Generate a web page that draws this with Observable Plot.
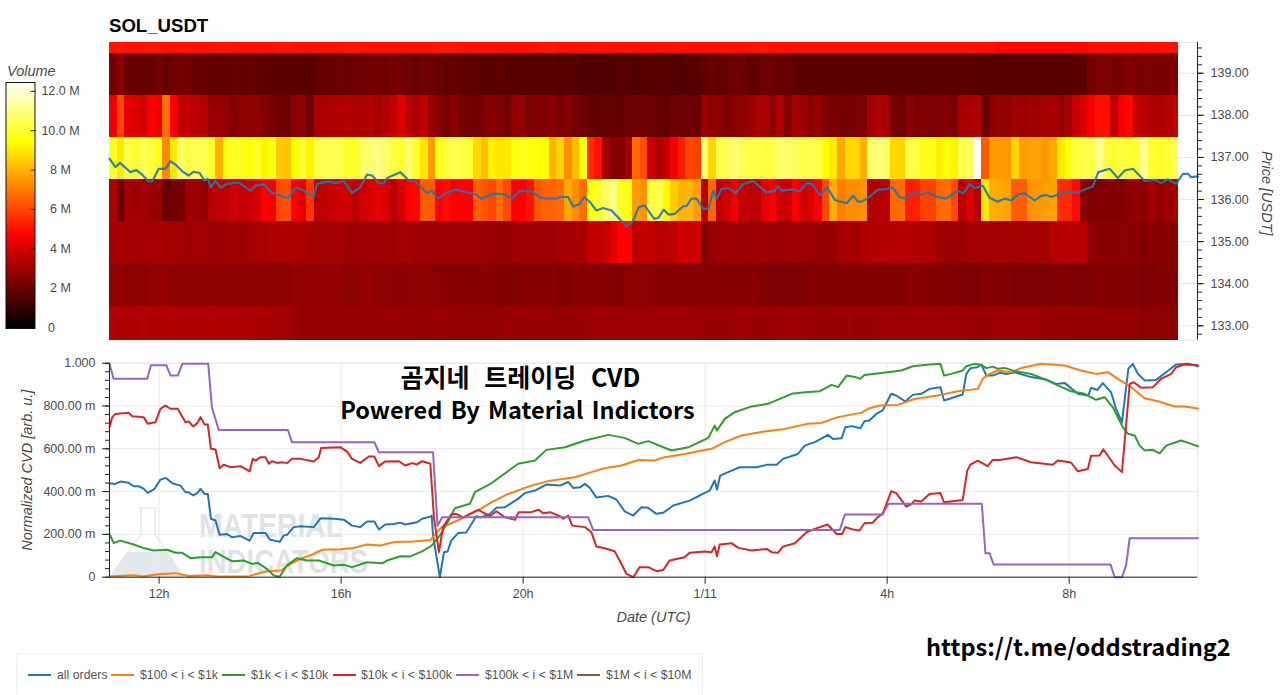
<!DOCTYPE html>
<html><head><meta charset="utf-8">
<script src="https://cdn.jsdelivr.net/npm/d3@7"></script>
<script src="https://cdn.jsdelivr.net/npm/@observablehq/plot@0.6"></script>
<style>
html,body{margin:0;padding:0;background:#fff}
#root{position:relative;width:1280px;height:695px;overflow:hidden;font-family:"Liberation Sans",Arial,sans-serif}
.abs{position:absolute;white-space:nowrap}
.ko{font-family:"Noto Sans CJK KR","Noto Sans",sans-serif;font-weight:700;color:#000}
.lg{position:absolute;top:668px;font-size:12.3px;color:#555;white-space:nowrap}
.sw{position:absolute;top:674px;height:2.4px;width:23px}
</style></head><body><div id="root"></div>
<script>
// ---------- heatmap: volume (millions) per 10-minute bin, per 1-USDT price band ----------
const binStart = 10.91, binHours = 1/6;
const bandEdges = [132.663,133.47,134.47,135.47,136.47,137.47,138.47,139.47,139.73];
const band133 = [
3.3,3.2,3.2,3.2,3.3,3.2,3.2,3.2,3.3,3.2, 3.2,3.2,3.2,3.3,3.2,3.2,3.2,3.2,3.2,3.1,
3.1,3.0,3.0,3.0,2.8,2.8,2.8,2.8,2.8,2.8, 2.8,2.8,2.8,2.8,2.8,2.8,2.8,2.8,2.8,2.8,
2.7,2.7,2.7,2.8,2.8,2.7,2.7,2.7,2.7,2.7, 2.7,2.7,2.8,2.8,2.8,2.8,2.8,2.8,2.7,2.7,
2.8,2.8,2.8,2.9,2.9,2.9,2.9,2.9,2.9,2.9, 2.9,2.9,2.9,2.9,2.9,2.9,2.9,2.9,2.8,2.8,
2.8,2.8,2.9,2.9,2.9,2.8,2.8,2.8,2.9,2.9, 2.9,2.9,2.8,2.8,2.8,2.8,2.8,2.9,2.8,2.8,
2.8,2.9,2.9,2.9,2.9,2.9,2.9,2.9,2.9,2.9, 2.9,2.9,2.9,2.8,2.8,2.8,2.9,2.9,2.9,2.9,
2.9,2.9,2.9,2.8,2.8,2.8,2.8,2.7,2.7,2.7, 2.7,2.7,2.7,2.7,2.7,2.7,2.6,2.6,2.6,2.6,2.6];
const band134 = [
2.7,2.7,2.6,2.6,2.6,2.7,2.7,2.7,2.6,2.6, 2.6,2.6,2.6,2.6,2.6,2.6,2.6,2.6,2.6,2.6,
2.6,2.6,2.6,2.6,2.7,2.7,2.7,2.7,2.7,2.7, 2.7,2.6,2.6,2.7,2.7,2.6,2.6,2.5,2.5,2.6,
2.6,2.6,2.6,2.5,2.5,2.5,2.5,2.5,2.5,2.5, 2.5,2.4,2.4,2.4,2.5,2.5,2.5,2.5,2.5,2.4,
2.4,2.5,2.5,2.5,2.5,2.5,2.4,2.4,2.6,2.6, 2.6,2.5,2.5,2.5,2.5,2.5,2.5,2.5,2.5,2.5,
2.5,2.5,2.5,2.5,2.5,2.5,2.4,2.3,2.3,2.3, 2.3,2.3,2.4,2.4,2.4,2.4,2.4,2.4,2.4,2.4,
2.4,2.4,2.4,2.4,2.4,2.5,2.5,2.5,2.4,2.4, 2.4,2.4,2.3,2.3,2.3,2.4,2.4,2.4,2.4,2.3,
2.3,2.3,2.3,2.3,2.3,2.4,2.4,2.3,2.3,2.3, 2.4,2.4,2.4,2.4,2.4,2.4,2.3,2.3,2.4,2.4,2.4];
const band135 = [
3.0,3.1,3.1,3.0,3.0,3.0,3.1,3.1,3.0,3.0, 2.9,3.0,3.0,2.8,2.9,2.9,3.0,2.9,3.0,3.1,
3.1,3.2,3.2,3.2,3.2,3.1,3.1,3.0,3.0,3.0, 3.0,2.9,2.9,2.9,2.9,2.9,3.0,2.9,3.0,3.0,
2.9,2.9,2.9,2.9,2.9,2.9,2.9,2.9,2.9,2.9, 2.8,2.8,2.8,2.9,2.9,2.9,2.9,2.9,2.9,3.0,
3.0,3.1,3.1,3.6,3.5,3.7,4.2,4.7,4.7,3.4, 3.6,3.6,3.4,3.4,3.5,3.9,3.7,3.8,2.4,2.8,
2.8,2.9,2.9,2.9,2.8,2.9,2.9,2.9,2.8,2.9, 2.9,2.9,2.9,2.8,2.7,2.8,3.0,3.1,3.0,3.2,
3.3,3.3,3.3,3.4,3.3,3.3,3.3,3.2,3.2,2.9, 2.9,2.8,2.9,3.0,3.0,3.0,3.0,3.0,3.0,3.0,
3.0,3.1,3.1,3.0,3.3,3.3,3.4,3.4,3.4,2.6, 2.5,2.5,2.5,2.6,2.5,2.6,2.4,2.5,2.5,2.5,2.5];
const band136 = [
3.2,1.9,3.0,2.9,3.0,2.9,2.8,1.9,2.1,2.2, 2.9,2.8,2.7,3.4,3.5,3.5,3.8,3.6,3.7,4.0,
4.7,4.5,6.0,6.2,4.6,4.2,5.7,3.4,3.6,3.7, 3.8,3.8,3.4,3.8,4.0,4.2,4.0,3.4,3.9,4.6,
4.8,6.4,6.4,4.7,4.9,4.6,4.7,4.7,6.5,6.3, 6.0,6.7,6.0,4.7,4.6,5.0,6.3,6.5,6.5,6.7,
7.8,7.3,6.7,9.6,9.9,10.6,11.0,9.8,9.6,7.6, 7.4,10.2,10.3,9.3,8.5,8.0,8.1,7.6,3.4,6.6,
3.5,3.8,4.5,3.6,3.5,3.5,4.2,4.6,3.8,3.7, 4.6,3.8,4.0,4.6,6.0,7.9,7.0,7.3,7.3,7.4,
3.3,3.3,3.4,6.6,6.7,5.2,5.3,5.9,5.9,6.6, 6.7,6.0,3.4,4.0,3.3,9.0,7.9,7.8,7.7,6.4,
6.4,7.4,7.5,7.6,7.7,5.5,5.4,4.9,2.6,2.3, 2.4,2.4,2.4,2.4,2.6,2.7,2.6,3.0,2.7,2.9,3.0];
const band137 = [
9.8,9.0,10.3,10.0,10.4,10.2,9.6,7.2,9.0,10.6, 10.2,10.5,10.4,10.0,8.0,9.6,9.9,9.7,9.5,9.8,
9.2,9.6,8.4,8.3,9.4,10.1,9.2,10.3,10.4,10.4, 10.3,9.9,9.9,10.6,10.8,11.0,10.7,10.2,10.0,10.9,
10.0,8.9,7.6,9.7,10.1,10.4,10.3,10.0,8.7,8.2, 9.1,8.9,9.0,9.6,9.8,9.6,9.5,9.4,8.0,8.6,
7.3,8.2,9.4,5.5,5.0,3.0,2.4,2.5,3.0,6.6, 6.1,3.7,3.2,3.6,4.5,5.2,6.0,5.9,10.8,8.6,
10.3,10.5,10.9,10.5,10.3,10.3,10.2,10.3,10.7,10.7, 10.5,10.3,10.4,10.3,9.4,9.0,7.8,8.7,8.7,7.9,
10.6,10.9,10.6,8.7,8.6,10.3,10.2,9.7,9.7,9.1, 9.4,9.2,10.4,10.5,12.4,6.4,7.6,7.6,7.5,8.6,
7.6,7.7,7.7,7.5,7.8,9.0,9.5,10.2,10.3,10.3, 11.2,10.2,10.0,10.2,10.0,10.1,11.2,10.0,9.9,10.0,10.5];
const band138 = [
4.4,6.0,4.2,4.1,3.9,4.6,4.4,6.8,4.7,3.6, 3.6,3.5,3.3,2.8,2.8,2.7,2.4,2.6,2.6,2.6,
2.4,2.3,2.1,2.0,2.5,2.6,2.0,3.1,3.1,3.2, 3.2,3.3,3.2,3.2,3.3,3.1,3.3,3.5,4.1,3.4,
3.2,3.5,2.8,2.5,2.2,2.6,2.2,2.2,2.1,2.3, 2.5,2.3,2.2,2.7,2.7,2.3,2.4,2.4,2.5,2.3,
2.4,2.2,2.1,1.8,1.8,1.9,1.9,1.8,2.0,2.0, 2.1,2.0,1.9,1.8,2.0,2.0,2.0,2.0,2.9,2.6,
2.6,2.4,2.5,2.6,2.8,3.1,3.1,2.6,3.2,2.4, 3.0,2.9,2.5,2.8,2.3,2.3,2.2,2.2,2.3,2.3,
3.0,3.2,3.1,2.2,2.1,2.5,2.3,2.4,2.3,2.3, 2.4,2.2,3.1,3.1,3.2,2.0,2.6,2.7,2.7,2.9,
2.9,3.0,2.9,3.0,3.1,2.8,3.0,3.6,4.0,4.6, 5.0,5.0,3.6,4.5,4.8,3.6,3.4,3.2,3.2,3.3,3.6];
const band139 = [
2.2,2.5,1.9,1.9,1.9,1.9,2.1,1.9,2.1,2.2, 2.1,1.9,1.9,1.8,1.8,1.8,1.9,1.8,1.9,1.8,
1.8,1.7,1.7,1.7,1.7,1.7,1.6,1.8,1.9,1.9, 2.0,1.9,2.1,2.0,2.1,2.1,2.0,2.2,2.1,2.1,
1.9,2.1,2.0,1.9,1.8,1.9,1.8,1.7,1.7,1.6, 1.6,1.7,1.6,1.6,1.6,1.6,1.6,1.6,1.6,1.5,
1.6,1.6,1.5,1.5,1.5,1.5,1.5,1.6,1.6,1.5, 1.6,1.6,1.6,1.6,1.5,1.5,1.6,1.6,1.8,1.9,
1.8,1.9,2.0,2.0,1.8,1.8,2.0,2.0,1.9,1.9, 1.7,1.7,1.7,1.7,1.7,1.7,1.7,1.7,1.7,1.7,
1.7,1.7,1.7,1.7,1.7,1.7,1.7,1.7,1.7,1.7, 1.7,1.7,1.7,1.7,1.6,1.6,1.6,1.6,1.6,1.6,
1.6,1.6,1.6,1.6,1.6,1.6,1.6,1.7,1.7,2.2, 2.3,2.3,2.2,2.2,2.4,2.2,2.3,2.3,2.2,2.3,2.3];
const band140 = [
5.1,5.1,5.0,5.0,5.0,5.1,5.1,5.0,5.0,5.0, 5.0,5.0,5.0,5.0,5.1,5.1,5.0,5.0,5.0,5.0,
5.0,5.0,5.1,5.1,5.0,5.0,5.0,5.0,5.0,5.0, 5.0,5.1,5.1,5.0,5.0,5.0,5.0,5.0,5.0,5.0,
5.0,5.0,5.0,5.1,5.1,5.1,5.0,5.0,5.0,5.0, 5.0,5.0,5.0,5.0,5.0,5.0,5.0,5.1,5.1,5.0,
5.0,5.0,5.0,5.0,5.0,5.0,5.0,5.0,5.0,5.0, 5.0,5.0,5.0,5.0,5.0,5.0,5.0,5.0,5.0,5.0,
5.0,5.0,5.0,5.0,5.0,5.1,5.1,5.0,5.0,5.0, 5.0,5.0,5.0,5.0,5.0,5.0,5.0,5.0,5.0,5.0,
5.0,5.0,5.0,5.0,5.0,5.0,5.0,5.0,5.0,5.0, 5.0,5.0,5.0,5.0,5.0,5.0,5.0,4.8,4.8,4.8,
4.8,4.8,4.8,4.8,4.8,4.8,4.8,4.8,4.8,4.9, 5.0,5.0,5.0,5.0,5.0,5.0,4.9,5.0,5.0,5.0,5.0];
const bands = [band133,band134,band135,band136,band137,band138,band139,band140];

// ---------- price line [hour, USDT] (24 = 00:00 on 1/11) ----------
const price = [[10.91,136.97],[11.04,136.77],[11.14,136.87],[11.37,136.65],[11.5,136.70],[11.63,136.59],[11.77,136.43],[11.85,136.43],[11.99,136.73],[12.14,136.73],[12.25,136.91],[12.36,136.83],[12.51,136.67],[12.65,136.57],[12.76,136.66],[12.89,136.63],[13,136.45],[13.07,136.49],[13.14,136.29],[13.24,136.45],[13.35,136.28],[13.49,136.37],[13.75,136.40],[14.01,136.21],[14.12,136.33],[14.3,136.36],[14.48,136.16],[14.67,136.09],[14.83,136.03],[15,136.29],[15.18,136.21],[15.4,136.07],[15.47,136.37],[15.73,136.43],[15.88,136.39],[16.06,136.44],[16.24,136.16],[16.42,136.29],[16.57,136.59],[16.68,136.57],[16.83,136.39],[16.94,136.39],[17.01,136.51],[17.3,136.65],[17.49,136.45],[17.63,136.44],[17.89,136.15],
[17.99,136.21],[18.13,136.02],[18.28,136.13],[18.5,136.24],[18.75,136.17],[18.97,136.12],[19.08,136.02],[19.34,136.14],[19.6,136.12],[19.74,136.02],[19.93,136.20],[20.18,136.20],[20.4,136.03],[20.73,136.02],[20.81,136.06],[20.99,136.06],[21.1,135.83],[21.25,135.90],[21.34,136.06],[21.47,135.94],[21.61,135.74],[21.76,135.80],[21.94,135.74],[22.12,135.54],[22.27,135.36],[22.42,135.50],[22.54,135.82],[22.67,135.86],[22.88,135.54],[22.97,135.56],[23.09,135.76],[23.2,135.64],[23.33,135.66],[23.52,135.84],[23.59,135.84],[23.7,136.02],[23.81,136.02],[23.96,135.78],[24.07,135.78],[24.18,136.21],[24.25,136.02],[24.36,136.25],[24.51,136.27],[24.67,136.15],[24.84,136.37],[25.05,136.44],[25.35,136.17],[25.53,136.21],[25.6,136.32],[25.68,136.21],[25.9,136.24],[26.08,136.20],[26.23,136.39],[26.34,136.37],[26.52,136.11],[26.68,136.29],[26.85,135.99],[27.11,135.91],[27.25,136.09],[27.36,135.95],[27.44,135.95],
[27.58,136.04],[27.79,136.23],[27.98,136.25],[28.12,136.29],[28.27,136.06],[28.42,136.02],[28.56,136.17],[28.75,136.12],[28.89,136.17],[29.11,136.06],[29.3,136.02],[29.55,136.21],[29.68,136.15],[29.81,136.37],[29.92,136.27],[30.1,136.33],[30.25,136.04],[30.43,135.95],[30.58,136.02],[30.73,135.98],[30.87,136.12],[31.02,136.15],[31.24,135.98],[31.38,136.08],[31.49,136.11],[31.6,136.06],[31.9,136.17],[32.19,136.16],[32.34,136.24],[32.52,136.31],[32.64,136.65],[32.89,136.73],[33.07,136.51],[33.22,136.69],[33.4,136.73],[33.66,136.44],[33.88,136.47],[34.02,136.39],[34.17,136.48],[34.35,136.37],[34.5,136.61],[34.61,136.61],[34.68,136.53],[34.83,136.55]];

// ---------- normalized CVD series [hour, value] ----------
const allOrders = [[10.91,.439],[11.04,.436],[11.15,.447],[11.33,.441],[11.44,.425],[11.55,.425],[11.66,.414],[11.75,.394],[11.9,.413],[12.03,.456],[12.15,.464],[12.29,.439],[12.47,.428],[12.58,.397],[12.65,.397],[12.75,.382],[12.84,.393],[12.91,.413],[13,.389],[13.07,.389],[13.14,.273],[13.24,.265],[13.33,.198],[13.49,.202],[13.6,.187],[13.79,.192],[13.99,.171],[14.08,.207],[14.34,.207],[14.43,.176],[14.65,.165],[14.74,.195],[14.81,.198],[14.96,.234],[15.11,.238],[15.4,.234],[15.55,.276],[15.84,.273],[16.06,.269],[16.24,.241],[16.42,.234],[16.57,.26],[16.73,.26],[16.83,.223],[16.97,.246],[17.16,.249],[17.3,.255],[17.41,.246],[17.67,.257],[17.78,.273],[17.96,.283],
[17.99,.288],[18.02,.195],[18.17,0],[18.26,.117],[18.34,.12],[18.42,.171],[18.57,.206],[18.75,.209],[18.97,.285],[19.08,.28],[19.27,.296],[19.41,.324],[19.6,.327],[19.74,.346],[19.89,.366],[20.04,.393],[20.26,.405],[20.51,.433],[20.81,.428],[20.99,.445],[21.1,.417],[21.25,.42],[21.36,.436],[21.47,.417],[21.61,.372],[21.87,.38],[22.05,.363],[22.23,.308],[22.42,.288],[22.6,.327],[22.75,.324],[22.93,.296],[23.08,.301],[23.3,.335],[23.66,.358],[23.99,.394],[24.1,.405],[24.21,.452],[24.26,.41],[24.33,.475],[24.58,.498],[24.76,.514],[25.13,.514],[25.35,.525],[25.57,.525],[25.71,.553],[26.04,.576],[26.19,.615],[26.41,.631],[26.7,.665],[26.81,.646],[27,.649],[27.08,.701],[27.22,.706],[27.41,.696],
[27.5,.729],[27.61,.732],[27.76,.763],[27.9,.779],[28.09,.857],[28.2,.849],[28.4,.821],[28.56,.852],[28.75,.857],[28.93,.88],[29.17,.888],[29.25,.826],[29.66,.854],[29.74,.95],[29.83,.977],[29.98,.981],[30.07,.994],[30.18,.942],[30.32,.942],[30.47,.955],[30.62,.95],[30.8,.958],[31.16,.935],[31.49,.924],[31.71,.903],[31.9,.908],[32.19,.857],[32.42,.849],[32.48,.885],[32.62,.875],[32.74,.907],[32.92,.864],[33.03,.787],[33.16,.724],[33.3,.974],[33.4,.997],[33.51,.95],[33.66,.919],[33.91,.922],[34.13,.958],[34.35,.994],[34.61,.997],[34.83,.986]];
const orders100to1k = [[10.91,.003],[11.44,.009],[11.66,.003],[11.96,.014],[12.36,.019],[12.65,.006],[13.05,.009],[13.27,.003],[13.97,.005],[14.15,.016],[14.37,.028],[14.67,.031],[14.89,.062],[15.11,.086],[15.4,.109],[15.58,.128],[15.99,.131],[16.28,.137],[16.57,.153],[16.86,.148],[17.16,.164],[17.6,.167],[17.96,.174],[18.21,.234],[18.42,.252],[18.64,.273],[19.01,.312],[19.3,.35],[19.67,.389],[20.18,.428],[20.55,.449],[21.14,.467],[21.5,.491],[21.79,.509],[22.16,.522],[22.53,.548],[22.89,.545],[23.11,.561],[23.48,.573],[24.14,.6],[24.43,.631],[24.8,.662],[25.31,.681],[25.75,.693],[26.26,.717],[26.56,.721],[26.92,.748],[27.44,.769],[27.58,.787],[27.84,.802],[28.23,.805],[28.6,.833],[29.11,.849],[29.55,.869],[29.99,.88],[30.1,.927],[30.21,.945],[30.43,.966],[30.73,.958],[30.95,.978],[31.38,.997],[31.9,.989],[32.26,.966],[32.59,.95],[32.85,.958],[33.07,.927],[33.36,.888],[33.66,.836],[33.95,.822],[34.32,.798],[34.53,.798],[34.83,.788]];
const orders1kto10k = [[10.91,.202],[11,.16],[11.15,.171],[11.44,.153],[11.66,.136],[11.88,.125],[12.18,.128],[12.36,.114],[12.51,.114],[12.69,.089],[12.91,.093],[13.16,.093],[13.24,.117],[13.46,.09],[13.6,.075],[13.86,.078],[14.04,.062],[14.17,.067],[14.37,.039],[14.52,.008],[14.65,.002],[14.81,.055],[15.03,.089],[15.25,.078],[15.51,.078],[15.84,.055],[16.06,.058],[16.24,.047],[16.57,.07],[16.9,.065],[17.01,.078],[17.3,.098],[17.52,.097],[17.78,.121],[17.93,.14],[17.99,.148],[18.17,.195],[18.32,.249],[18.5,.322],[18.83,.343],[18.94,.397],[19.3,.439],[19.89,.53],[20.26,.545],[20.51,.595],[20.92,.607],[21.36,.639],[21.87,.665],[22.23,.651],[22.53,.623],[22.75,.636],[23.26,.592],[23.63,.607],[24.07,.651],[24.21,.709],[24.26,.685],[24.43,.74],[24.65,.771],[25.02,.798],[25.38,.81],[25.9,.857],[26.19,.864],[26.52,.869],[26.78,.899],[26.92,.888],[27.11,.942],[27.29,.936],[27.41,.927],[27.5,.945],[28.01,.958],[28.31,.966],[28.56,.986],[28.93,.994],[29.17,.997],[29.25,.942],[29.41,.95],[29.66,.966],[29.74,.986],[29.92,.997],[30.07,.992],[30.18,.977],[30.32,.984],[30.43,.974],[30.58,.978],[30.8,.963],[31.16,.95],[31.53,.919],[31.75,.896],[32.04,.869],[32.34,.857],[32.59,.829],[32.78,.841],[32.96,.794],[33.18,.701],[33.29,.67],[33.44,.662],[33.55,.615],[33.66,.592],[33.84,.595],[33.99,.579],[34.13,.615],[34.46,.639],[34.68,.623],[34.83,.612]];
const orders10kto100k = [[10.91,.701],[10.97,.748],[11.04,.763],[11.33,.768],[11.41,.752],[11.66,.748],[11.75,.717],[11.92,.724],[12.03,.787],[12.14,.802],[12.25,.787],[12.41,.787],[12.58,.724],[12.65,.728],[12.75,.704],[12.84,.72],[12.91,.748],[13,.713],[13.07,.713],[13.14,.6],[13.24,.597],[13.33,.509],[13.42,.526],[13.57,.514],[13.79,.519],[13.99,.495],[14.06,.553],[14.12,.545],[14.23,.561],[14.34,.561],[14.41,.53],[14.48,.542],[14.59,.534],[14.7,.537],[14.81,.533],[14.92,.553],[15.11,.553],[15.4,.541],[15.51,.561],[15.56,.604],[15.99,.607],[16.13,.587],[16.24,.553],[16.42,.534],[16.61,.564],[16.73,.564],[16.83,.519],[16.97,.541],[17.27,.542],[17.41,.522],[17.56,.533],[17.67,.527],[17.78,.542],[17.96,.53],[18.04,.28],[18.15,.117],[18.24,.234],[18.42,.293],[18.53,.296],[18.68,.28],[18.83,.296],[19.01,.315],[19.27,.285],[19.41,.308],[19.6,.28],[19.82,.268],[19.9,.304],[20.18,.304],[20.34,.315],[20.44,.299],[20.59,.304],[20.81,.285],[20.88,.273],[20.99,.288],[21.08,.241],[21.36,.234],[21.5,.21],[21.61,.143],[21.79,.135],[22.01,.121],[22.12,.078],[22.27,.016],[22.42,0],[22.56,.047],[22.75,.047],[22.93,.028],[23.08,.034],[23.22,.078],[23.55,.093],[23.66,.114],[23.99,.12],[24.14,.117],[24.21,.143],[24.26,.098],[24.32,.153],[24.58,.159],[24.73,.137],[25.02,.125],[25.35,.132],[25.46,.117],[25.6,.114],[25.71,.143],[25.97,.159],[26.23,.21],[26.41,.226],[26.69,.246],[26.89,.202],[27.01,.202],[27.08,.234],[27.25,.223],[27.39,.218],[27.5,.252],[27.68,.254],[27.79,.28],[27.9,.296],[28.09,.402],[28.2,.393],[28.42,.33],[28.53,.34],[28.6,.358],[28.75,.354],[28.93,.389],[29.17,.393],[29.25,.35],[29.66,.361],[29.76,.498],[29.83,.526],[29.99,.545],[30.21,.519],[30.32,.548],[30.47,.548],[30.84,.561],[31.16,.537],[31.64,.525],[31.75,.545],[32.04,.536],[32.19,.495],[32.41,.506],[32.48,.567],[32.67,.569],[32.75,.598],[33,.522],[33.16,.491],[33.33,.903],[33.42,.911],[33.58,.885],[33.84,.888],[34.02,.927],[34.24,.95],[34.35,.981],[34.53,.994],[34.83,.991]];
const orders100kto1M = [[10.91,.997],[11,.927],[11.74,.927],[11.82,.99],[12.16,.99],[12.25,.942],[12.41,.942],[12.51,.997],[13.08,.997],[13.16,.794],[13.31,.688],[14.83,.688],[14.92,.631],[16.73,.631],[16.83,.584],[18.02,.584],[18.12,.24],[18.22,.28],[21.43,.28],[21.54,.221],[26.96,.221],[27.07,.293],[27.9,.293],[28.03,.343],[30.08,.343],[30.16,.112],[30.25,.112],[30.34,.059],[32.91,.059],[33,0],[33.16,0],[33.25,.055],[33.33,.182],[34.83,.182]];
const orders1Mto10M = [];
const series = [
  {name:"all orders", data:allOrders, color:"#1f77b4"},
  {name:"$100 < i < $1k", data:orders100to1k, color:"#ff7f0e"},
  {name:"$1k < i < $10k", data:orders1kto10k, color:"#2ca02c"},
  {name:"$10k < i < $100k", data:orders10kto100k, color:"#d62728"},
  {name:"$100k < i < $1M", data:orders100kto1M, color:"#9467bd"},
  {name:"$1M < i < $10M", data:orders1Mto10M, color:"#8c564b"}
];

// ---------- ticks ----------
const xTicks = [12,16,20,24,28,32];
const xLabels = ["12h","16h","20h","1/11","4h","8h"];
const cvdTicks = [0,.2,.4,.6,.8,1];
const cvdLabels = ["0","200.00 m","400.00 m","600.00 m","800.00 m","1.000"];
const cvdMinor = d3.range(0,1.0001,.04);
const priceTicks = [133,134,135,136,137,138,139];
const priceMinor = d3.range(132.8,139.71,.2);
const volumeTicks = [2,4,6,8,10,12];
const volumeLabels = ["2 M","4 M","6 M","8 M","10.0 M","12.0 M"];
const volumeLevels = d3.range(-0.05,12.45,0.05);
const xDomain = [10.91,34.82];
const color = {type:"linear",domain:[0,4.7,9.4,12.5],range:["#000000","#ff0000","#ffff00","#ffffff"]};
const textCol = "#4a4a4a", lineCol = "#222", gridCol = "#e9e9e9";
const baseStyle = (top)=>({position:"absolute",left:"0",top:top+"px",background:"transparent",fontFamily:'"Liberation Sans",Arial,sans-serif',fontSize:"12.5px",overflow:"visible"});

const cells = bands.flatMap((b,k)=>b.map((v,i)=>({x1:binStart+i*binHours,x2:binStart+(i+1)*binHours,y1:bandEdges[k],y2:bandEdges[k+1],v})));

const heat = Plot.plot({
  width:1280,height:350,marginLeft:109,marginRight:83,marginTop:42,marginBottom:10.5,
  style:baseStyle(0),
  x:{domain:xDomain,axis:null},
  y:{domain:[132.663,139.73]},
  color,
  marks:[
    Plot.gridY(priceTicks,{stroke:gridCol,strokeOpacity:1}),
    Plot.frame({stroke:gridCol}),
    Plot.rect(cells,{x1:"x1",x2:"x2",y1:"y1",y2:"y2",fill:"v",shapeRendering:"crispEdges"}),
    Plot.line(price,{x:d=>d[0],y:d=>d[1],stroke:"#1f77b4",strokeWidth:2.2,strokeOpacity:.9}),
    Plot.axisY(priceTicks,{anchor:"right",tickSize:6,tickPadding:7,tickFormat:d3.format(".2f"),label:null,stroke:lineCol,fill:textCol}),
    Plot.axisY(priceMinor,{anchor:"right",tickSize:4,tickFormat:()=>"",label:null,stroke:lineCol}),
    Plot.ruleX([xDomain[1]],{stroke:lineCol}),
    Plot.text(["Price [USDT]"],{frameAnchor:"right",textAnchor:"middle",dx:69,dy:2,rotate:90,fontStyle:"italic",fontSize:14.5,fill:textCol})
  ]
});

const cvd = Plot.plot({
  width:1280,height:280,marginLeft:109,marginRight:83,marginTop:12.7,marginBottom:53.3,
  style:baseStyle(350),
  x:{domain:xDomain},
  y:{domain:[0,1]},
  marks:[
    Plot.gridX(xTicks,{stroke:gridCol,strokeOpacity:1}),
    Plot.gridY(cvdTicks,{stroke:gridCol,strokeOpacity:1}),
    Plot.frame({stroke:gridCol}),
    ...series.filter(s=>s.data.length).map(s=>Plot.line(s.data,{x:d=>d[0],y:d=>d[1],stroke:s.color,strokeWidth:2})),
    Plot.axisX(xTicks,{anchor:"bottom",tickSize:7,tickPadding:5,tickFormat:h=>xLabels[xTicks.indexOf(h)],label:null,stroke:lineCol,fill:textCol}),
    Plot.axisY(cvdTicks,{anchor:"left",tickSize:7,tickPadding:7,tickFormat:v=>cvdLabels[cvdTicks.indexOf(v)],label:null,stroke:lineCol,fill:textCol}),
    Plot.axisY(cvdMinor,{anchor:"left",tickSize:4,tickFormat:()=>"",label:null,stroke:lineCol}),
    Plot.ruleX([xDomain[0]],{stroke:lineCol}),
    Plot.ruleY([0],{stroke:lineCol}),
    Plot.text(["Date (UTC)"],{frameAnchor:"bottom",textAnchor:"middle",dy:45,dx:0,fontStyle:"italic",fontSize:14.5,fill:textCol}),
    Plot.text(["Normalized CVD [arb. u.]"],{frameAnchor:"left",textAnchor:"middle",dx:-82,rotate:-90,fontStyle:"italic",fontSize:14.5,fill:textCol})
  ]
});

const bar = Plot.plot({
  width:100,height:290,marginLeft:5.5,marginRight:65.5,marginTop:22,marginBottom:22,
  style:baseStyle(60),
  y:{domain:[-0.05,12.45],axis:null},
  color,
  marks:[
    Plot.rect(volumeLevels,{y1:d=>d,y2:d=>d+0.06,fill:d=>Math.max(0,d+0.03),shapeRendering:"crispEdges"}),
    Plot.axisY(volumeTicks,{anchor:"right",tickSize:-5,tickPadding:30.5,textAnchor:"middle",tickFormat:v=>volumeLabels[volumeTicks.indexOf(v)],label:null,stroke:"#222",fill:textCol}),
    Plot.axisY([0],{anchor:"right",tickSize:0,tickPadding:16.5,textAnchor:"middle",tickFormat:()=>"0",label:null,stroke:"none",fill:textCol}),
    Plot.frame({stroke:"#111"})
  ]
});

const root = document.getElementById("root");
// Watermark sits behind the transparent CVD plot
root.insertAdjacentHTML("beforeend",`<svg class="abs" style="left:105px;top:500px" width="320" height="85" font-family="Liberation Sans" font-weight="700" fill="#dfe3e8">
<path d="M33 8h20M36 8v26L6 76h72L50 34V8" fill="none" stroke="#eceef0" stroke-width="2"/>
<path d="M22 52h40l16 24H6z" fill="#e3e8ec"/>
<text x="94" y="37" font-size="33" textLength="144" lengthAdjust="spacingAndGlyphs">MATERIAL</text>
<text x="94" y="73" font-size="33" textLength="169" lengthAdjust="spacingAndGlyphs">INDICATORS</text></svg>`);
root.append(heat,cvd,bar);
root.insertAdjacentHTML("beforeend",`
<div class="abs" style="left:109px;top:15px;font-size:18.6px;font-weight:700;color:#000">SOL_USDT</div>
<div class="abs" style="left:7px;top:63px;font-size:14.5px;font-style:italic;color:#4a4a4a">Volume</div>
<div class="abs ko" style="left:0;width:1041px;text-align:center;top:358px;font-size:25px;line-height:36px;word-spacing:9px">곰지네 트레이딩 CVD</div>
<div class="abs ko" style="left:0;width:1035px;text-align:center;top:391px;font-size:23.5px;line-height:36px;word-spacing:3px">Powered By Material Indictors</div>
<div class="abs ko" style="left:926px;top:628px;font-size:23.6px;line-height:36px">https://t.me/oddstrading2</div>
<div class="abs" style="left:16px;top:653px;width:687px;height:60px;border:1px solid #eee;box-sizing:border-box"></div>`);
const legendX = [[28,57],[111,140],[222,251],[333,361],[456,485],[577,606]];
series.forEach((s,i)=>{
  root.insertAdjacentHTML("beforeend",`<div class="sw" style="left:${legendX[i][0]}px;background:${s.color}"></div><div class="lg" style="left:${legendX[i][1]}px"></div>`);
  root.lastElementChild.textContent = s.name;
});
</script></body></html>
